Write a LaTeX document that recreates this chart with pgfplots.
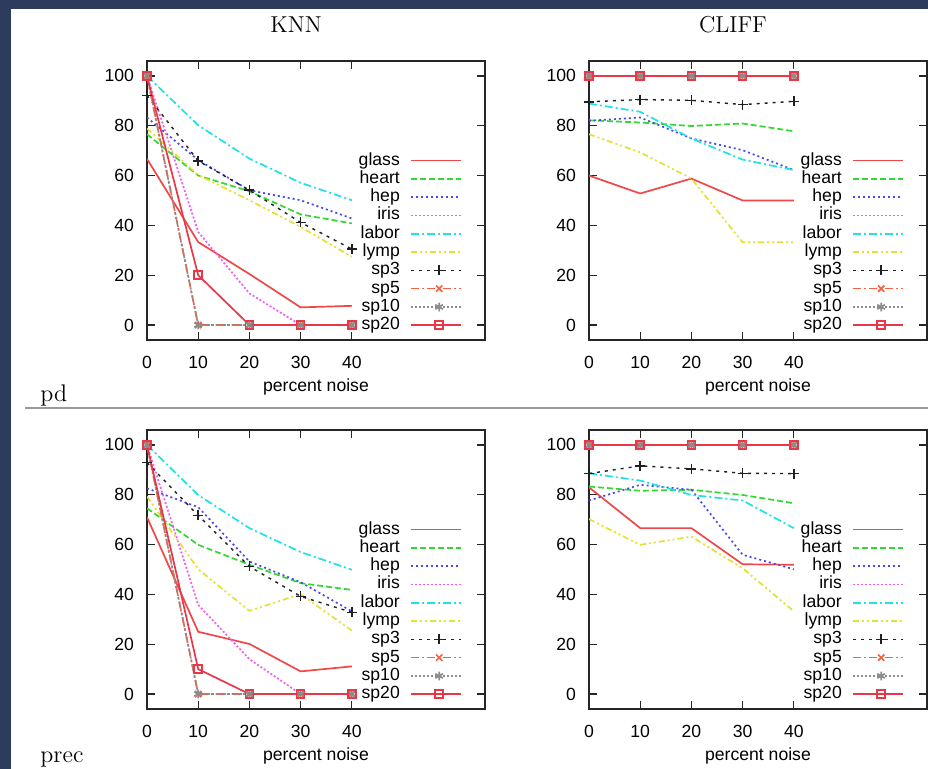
\documentclass[border=0pt]{standalone}
\usepackage{fontspec}
\usepackage{pgfplots}
\usepackage{pgfplotstable}
\pgfplotsset{compat=1.18}
\newfontfamily\gpfont{Liberation Sans}
\definecolor{slidebg}{HTML}{2D3B5E}
\definecolor{cglass}{HTML}{F04848}
\definecolor{cheart}{HTML}{30D830}
\definecolor{chep}{HTML}{4848F0}
\definecolor{ciris}{HTML}{F060F0}
\definecolor{clabor}{HTML}{20E0E8}
\definecolor{clymp}{HTML}{E6E030}
\definecolor{csp3}{HTML}{202020}
\definecolor{csp5}{HTML}{F86040}
\definecolor{csp10}{HTML}{8C8C8C}
\definecolor{csp20}{HTML}{E83848}

\pgfplotstableread{
x glass heart hep iris labor lymp sp3 sp5 sp10 sp20
0 66.7 76.6 83.3 100 100 78.9 92.2 100 100 100
10 33.3 60.0 66.2 37.4 80.2 60.2 65.9 0 0 20
20 20.5 53.7 54.1 12.7 66.8 50.1 54.1 0 0 0
30 7.1 44.4 50.1 0 57.1 39.4 41.2 0 0 0
40 7.7 40.8 42.8 0 50.1 27.4 30.5 0 0 0
}\knnpd

\pgfplotstableread{
x glass heart hep iris labor lymp sp3 sp5 sp10 sp20
0 60 82.2 82.0 100 88.9 76.6 89.6 100 100 100
10 52.8 81.3 83.3 100 85.6 69.3 90.5 100 100 100
20 58.8 79.9 74.9 100 74.9 58.8 90.2 100 100 100
30 50 80.9 70.2 100 66.4 33.2 88.5 100 100 100
40 50 77.8 62.2 100 62.2 33.2 89.8 100 100 100
}\cliffpd

\pgfplotstableread{
x glass heart hep iris labor lymp sp3 sp5 sp10 sp20
0 71 74.6 82.6 100 100 79.3 92.9 100 100 100
10 25 59.9 75 35.8 79.9 50.1 71.7 0 0 10
20 20.1 51.9 53.2 14 66.6 33.4 51.2 0 0 0
30 9.1 44.5 44.9 0 57 40.1 39.2 0 0 0
40 11.1 41.8 33.2 0 49.9 25.5 32.8 0 0 0
}\knnprec

\pgfplotstableread{
x glass heart hep iris labor lymp sp3 sp5 sp10 sp20
0 83 83.3 77.7 100 88.6 70.2 88.5 100 100 100
10 66.6 81.6 84 100 85.7 59.9 91.6 100 100 100
20 66.6 82 82 100 79.9 63.2 90.4 100 100 100
30 52.1 79.9 55.9 100 77.7 50.5 88.6 100 100 100
40 51.9 76.6 50.1 100 66.6 33.2 88.5 100 100 100
}\cliffprec

\pgfplotsset{
  legend image code/.code={\draw[mark repeat=2,mark phase=2,#1] plot coordinates {(0pt,0pt) (14pt,0pt) (25pt,0pt)};},
  gp/.style={
    scale only axis, width=169pt, height=139.5pt,
    xmin=0, xmax=66, ymin=-6, ymax=106,
    xtick={0,10,20,30,40}, ytick={0,20,40,60,80,100},
    tick align=inside, major tick length=4pt,
    axis line style={draw=black!85, line width=1pt},
    every tick/.style={black!85, line width=0.6pt},
    /pgf/number format/assume math mode=true,
    ticklabel style={font=\gpfont\fontsize{8.8}{10}\selectfont},
    yticklabel style={xshift=-3pt},
    xticklabel style={yshift=-4.5pt},
    xlabel={percent noise},
    every axis x label/.style={at={(axis description cs:0.5,0)}, anchor=center, yshift=-23.5pt, font=\gpfont\fontsize{8.8}{10}\selectfont},
    legend style={draw=none, fill=none, at={(axis description cs:0.932,0.676)}, anchor=north east, inner sep=0pt, outer sep=0pt, row sep=0pt, column sep=5pt, font=\gpfont\fontsize{8.8}{10}\selectfont, nodes={inner sep=0.25pt, text height=6.6pt, text depth=2.05pt}},
    legend cell align=right,
    legend plot pos=right,
  },
  sglass/.style={cglass, line width=0.85pt, mark=none},
  sheart/.style={cheart, line width=0.85pt, mark=none, dash pattern=on 3pt off 1.5pt},
  shep/.style={chep, line width=0.85pt, mark=none, dash pattern=on 1pt off 1.5pt},
  siris/.style={ciris, line width=0.85pt, mark=none, dash pattern=on 1pt off 1pt},
  slabor/.style={clabor, line width=0.85pt, mark=none, dash pattern=on 4pt off 1.5pt on 1pt off 1.5pt},
  slymp/.style={clymp, line width=0.85pt, mark=none, dash pattern=on 3pt off 1.5pt on 1pt off 1.5pt on 1pt off 1.5pt},
  ssp3/.style={csp3, line width=0.7pt, dash pattern=on 1.5pt off 2.5pt, mark=+, mark size=2.5pt, mark options={solid, line width=0.8pt}},
  ssp5/.style={csp5, line width=0.85pt, dash pattern=on 4pt off 1.5pt on 1pt off 1.5pt, mark=x, mark size=2.2pt, mark options={solid}},
  ssp10/.style={csp10, line width=0.85pt, dash pattern=on 1pt off 1pt, mark=asterisk, mark size=2.2pt, mark options={solid}},
  ssp20/.style={csp20, line width=0.85pt, mark=square, mark size=2pt, mark options={solid}},
}

\newcommand\panel[1]{%
  \addplot[sglass] table[x=x,y=glass]{#1};
  \addplot[sheart] table[x=x,y=heart]{#1};
  \addplot[shep] table[x=x,y=hep]{#1};
  \addplot[siris] table[x=x,y=iris]{#1};
  \addplot[slabor] table[x=x,y=labor]{#1};
  \addplot[slymp] table[x=x,y=lymp]{#1};
  \addplot[ssp3] table[x=x,y=sp3]{#1};
  \addplot[ssp5] table[x=x,y=sp5]{#1};
  \addplot[ssp10] table[x=x,y=sp10]{#1};
  \addplot[ssp20] table[x=x,y=sp20]{#1};
  \legend{glass,heart,hep,iris,labor,lymp,sp3,sp5,sp10,sp20}
}

\begin{document}
\begin{tikzpicture}
\useasboundingbox (0,0) rectangle (464pt,384.5pt);
\clip (0,0) rectangle (464pt,384.5pt);
\fill[slidebg] (0,0) rectangle (464pt,384.5pt);
\fill[white] (5.5pt,0) rectangle (464pt,380pt);
\draw[black!40, line width=1.2pt] (12.5pt,180.5pt) -- (464pt,180.5pt);
\node[font=\fontsize{11.5}{13}\selectfont] at (148pt,372pt) {KNN};
\node[font=\fontsize{11.5}{13}\selectfont] at (366.5pt,372pt) {CLIFF};
\node[font=\fontsize{12}{14}\selectfont, anchor=base west, inner sep=0pt] at (20pt,183.5pt) {pd};
\node[font=\fontsize{12}{14}\selectfont, anchor=base west, inner sep=0pt] at (20pt,3pt) {prec};

\begin{axis}[gp, at={(73.5pt,214.5pt)}, anchor=south west]
\panel{\knnpd}
\end{axis}
\begin{axis}[gp, at={(294.5pt,214.5pt)}, anchor=south west]
\panel{\cliffpd}
\end{axis}
\begin{axis}[gp, at={(73.5pt,30pt)}, anchor=south west]
\panel{\knnprec}
\end{axis}
\begin{axis}[gp, at={(294.5pt,30pt)}, anchor=south west]
\panel{\cliffprec}
\end{axis}
\end{tikzpicture}
\end{document}
